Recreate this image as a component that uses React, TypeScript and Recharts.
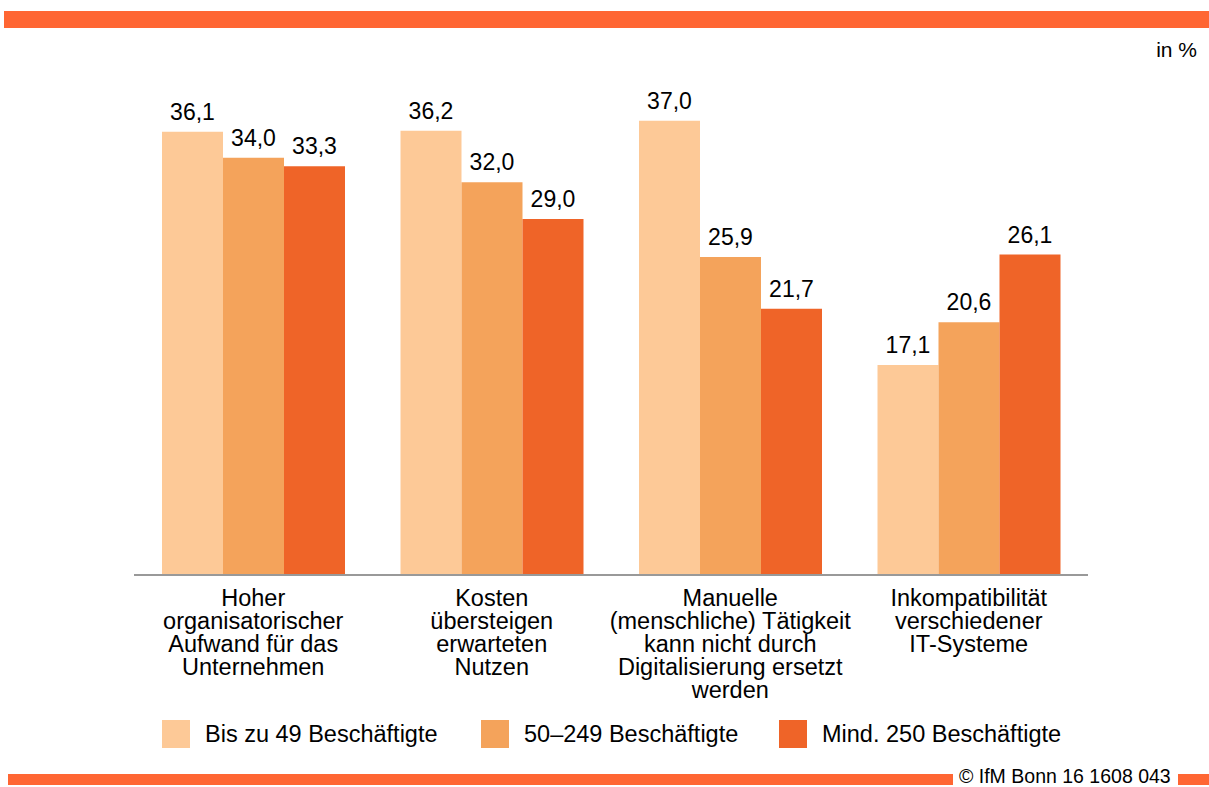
import React from "react";
import { BarChart, Bar, XAxis, YAxis, LabelList, Legend } from "recharts";

const categories = [
  "Hoher\norganisatorischer\nAufwand für das\nUnternehmen",
  "Kosten\nübersteigen\nerwarteten\nNutzen",
  "Manuelle\n(menschliche) Tätigkeit\nkann nicht durch\nDigitalisierung ersetzt\nwerden",
  "Inkompatibilität\nverschiedener\nIT-Systeme",
];
const seriesNames = ["Bis zu 49 Beschäftigte", "50–249 Beschäftigte", "Mind. 250 Beschäftigte"];
const smallFirms = [36.1, 36.2, 37.0, 17.1];
const mediumFirms = [34.0, 32.0, 25.9, 20.6];
const largeFirms = [33.3, 29.0, 21.7, 26.1];
const colors = ["#FDC997", "#F4A35B", "#EF6428"];
const keys = ["small", "medium", "large"];

const data = categories.map((name, i) => ({
  name,
  small: smallFirms[i],
  medium: mediumFirms[i],
  large: largeFirms[i],
}));

const FONT = "'Liberation Sans', Arial, Helvetica, sans-serif";

const fmt = (v: number) => v.toFixed(1).replace(".", ",");

const ValueLabel = (props: any) => {
  const { x, y, width, value } = props;
  return (
    <text
      x={Number(x) + Number(width) / 2}
      y={Number(y) - 12}
      textAnchor="middle"
      fontSize={23}
      fontFamily={FONT}
      fill="#000"
    >
      {fmt(Number(value))}
    </text>
  );
};

const CategoryTick = (props: any) => {
  const { x, y, payload } = props;
  const lines = String(payload.value).split("\n");
  return (
    <text x={x} y={y} textAnchor="middle" fontSize={23.5} fontFamily={FONT} fill="#000">
      {lines.map((l, i) => (
        <tspan key={i} x={x} y={Number(y) + 31 + i * 23}>
          {l}
        </tspan>
      ))}
    </text>
  );
};

const legendX = [162, 481, 779];

const LegendContent = () => (
  <div style={{ position: "relative", width: 1209, height: 40 }}>
    {seriesNames.map((n, i) => (
      <React.Fragment key={n}>
        <div
          style={{
            position: "absolute",
            left: legendX[i],
            top: 4,
            width: 28,
            height: 28,
            background: colors[i],
          }}
        />
        <div
          style={{
            position: "absolute",
            left: legendX[i] + 43,
            top: 4,
            height: 28,
            lineHeight: "28px",
            fontSize: 23.5,
            fontFamily: FONT,
            color: "#000",
            whiteSpace: "nowrap",
          }}
        >
          {n}
        </div>
      </React.Fragment>
    ))}
  </div>
);

export default function App() {
  return (
    <div style={{ position: "absolute", left: 0, top: 0, width: 1209, height: 787, background: "#fff", overflow: "hidden" }}>
      <div style={{ position: "absolute", left: 4, top: 11, width: 1205, height: 17, background: "#FF6633" }} />
      <div
        style={{
          position: "absolute",
          right: 12,
          top: 38,
          fontSize: 21,
          fontFamily: FONT,
          color: "#000",
        }}
      >
        in %
      </div>
      <BarChart
        width={1209}
        height={787}
        data={data}
        margin={{ top: 84, right: 121, bottom: 182, left: 134 }}
        barGap={0}
      >
        <YAxis hide domain={[0, 40]} />
        <XAxis
          dataKey="name"
          axisLine={{ stroke: "#999", strokeWidth: 2 }}
          tickLine={false}
          tickSize={0}
          tickMargin={0}
          interval={0}
          tick={<CategoryTick />}
        />
        <Legend
          verticalAlign="middle"
          layout="horizontal"
          wrapperStyle={{ left: 0, top: 716, width: 1209 }}
          content={<LegendContent />}
        />
        {keys.map((k, i) => (
          <Bar key={k} dataKey={k} name={seriesNames[i]} fill={colors[i]} barSize={61} isAnimationActive={false}>
            <LabelList dataKey={k} content={<ValueLabel />} />
          </Bar>
        ))}
      </BarChart>
      <div style={{ position: "absolute", left: 8, top: 774, width: 945, height: 11, background: "#FF6633" }} />
      <div
        style={{
          position: "absolute",
          left: 959,
          top: 767,
          fontSize: 19.5,
          lineHeight: "18px",
          fontFamily: FONT,
          color: "#000",
          whiteSpace: "nowrap",
        }}
      >
        © IfM Bonn 16 1608 043
      </div>
      <div style={{ position: "absolute", left: 1178, top: 774, width: 31, height: 11, background: "#FF6633" }} />
    </div>
  );
}
